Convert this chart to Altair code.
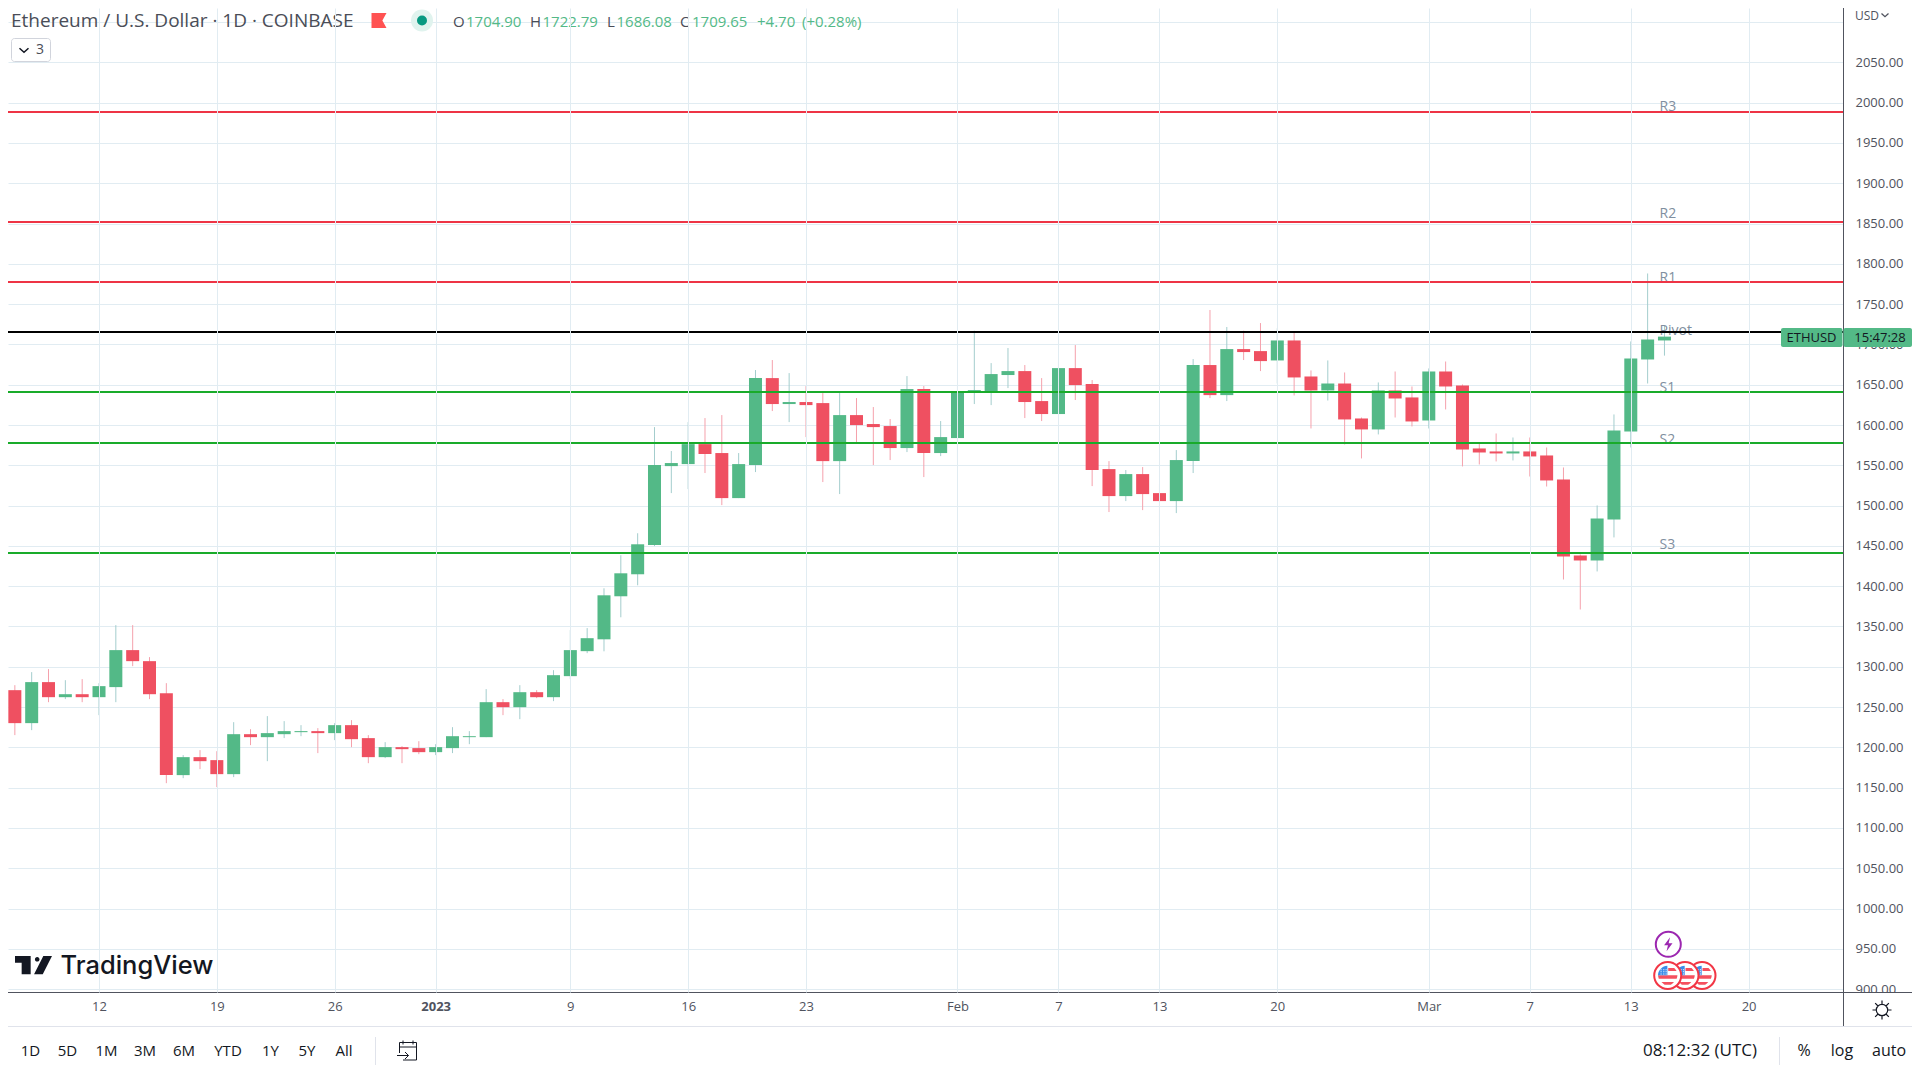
import altair as alt
import pandas as pd

# ---------- data ----------
first_day = "2022-12-07"
opens = [1271,1230.1,1281,1262.3,1266,1262.3,1274.8,1320.7,1307,1267.3,
         1165.6,1187.9,1184.2,1166.8,1216.4,1212.7,1216.4,1218.9,1220.2,1217.7,
         1227.6,1211.5,1187.9,1200.3,1199.1,
         1194.1,1199.1,1212.7,1212.7,1256.1,1249.9,1268.5,1262.3,1288.4,1319.4,
         1334.1,1387.5,1414.8,1451,1549,1551.5,1576.3,1565.2,1509.3,1550.3,
         1658.2,1626,1628.5,1627.2,1555.2,1612.3,1601.2,1598.7,1571.4,1644.6,1565.2,
         1583.8,1640.9,1640.9,1662,1666.9,1629.7,1613.6,1670.6,1650.8,1545.3,
         1511.8,1539.1,1515.5,1505.6,1555.2,1674.4,1637.1,1694.2,1691.7,1680.1,
         1704.9,1660.2,1642.9,1651.5,1608.1,1594.5,1642.9,1634.2,
         1605.6,1666.4,1649,1570.9,1567.2,1564.7,1567.2,1562.2,1532.4,1438.1,1431.9,1482.8,1592,1681.3,1704.9]
closes = [1230.1,1281,1262.3,1266,1262.3,1276,1320.7,1307,1266,1165.6,
          1187.9,1182.9,1166.8,1216.4,1212.7,1217.7,1220.2,1220.2,1217.7,1227.6,
          1210.2,1187.9,1200.3,1197.8,1194.1,
          1200.3,1213.9,1213.9,1256.1,1249.9,1268.5,1262.3,1289.6,1320.7,1335.5,
          1388.7,1416,1452,1550.3,1552.8,1576.3,1564,1509.3,1551.5,1658.2,
          1626,1628.5,1624.7,1555.2,1612.3,1599.9,1597.4,1571.4,1644.6,1565.2,1585,
          1640.9,1643.3,1663.2,1666.9,1628.5,1613.6,1670.6,1649.5,1544.1,1511.8,
          1539.1,1514.3,1505.6,1556.5,1674.4,1637.1,1694.2,1690.5,1679.3,1704.9,
          1659,1642.9,1651.5,1606.9,1594.5,1642.9,1632.9,1604.4,
          1666.4,1647.8,1569.6,1565.9,1564.7,1567.2,1561,1531.2,1436.9,1431.9,1484,1593.2,1682.6,1706.1,1709.65]
highs = [1277.2,1293.4,1297.1,1283.4,1284.7,1279.7,1351.7,1351.7,1312,1279.7,
         1190.4,1196.6,1195.3,1231.3,1222.6,1238.8,1232.6,1227.6,1223.9,1230.1,
         1233.8,1215.2,1206.5,1201.5,1207.7,
         1204,1225.1,1220.2,1272.3,1259.9,1277.2,1271,1295.8,1345.5,1348,
         1397.4,1438.4,1465.7,1597.4,1567.7,1603.6,1608.6,1612.3,1565.2,1668.2,
         1680.6,1664.4,1648.3,1639.6,1639.6,1633.4,1622.3,1607.4,1660.7,1648.3,1604.9,
         1648.3,1717,1676.8,1695.5,1674.4,1658.2,1678.1,1699.2,1655.8,1555.2,
         1544.1,1547.8,1526.7,1568.9,1681.8,1742.7,1721.6,1717,1726.5,1720,
         1716,1667.7,1680.1,1665.2,1609.3,1652.8,1666.4,1647.8,
         1670.2,1678.8,1650.3,1577.1,1589.5,1584.5,1584.5,1572.1,1547.3,1439.4,1500.2,1613.1,1703.7,1788,1722.79]
lows = [1215.2,1221.4,1256.1,1259.9,1256.1,1240,1256.1,1300.8,1259.9,1155.6,
        1161.8,1173,1150.7,1163.1,1202.8,1182.9,1211.5,1213.9,1192.9,1209,
        1200.3,1180.4,1186.7,1180.4,1191.6,
        1190.4,1192.9,1204,1212.7,1240,1235,1261.1,1257.4,1284.7,1316.9,
        1319.2,1361.4,1401.1,1449.8,1515.5,1520.5,1540.4,1500.6,1509.3,1541.6,
        1617.3,1603.6,1585,1529.2,1514.3,1578.8,1550.3,1556.5,1566.4,1535.4,1561.4,
        1556.5,1626,1624.7,1645.8,1608.6,1604.9,1613.6,1631,1524.2,1492,
        1505.6,1494.4,1462.2,1490.7,1540.4,1633.4,1629.7,1680.6,1666.9,1651.5,
        1636.7,1595.7,1630.4,1575.8,1558.5,1588.3,1609.3,1598.2,
        1595.7,1619.3,1548.6,1551,1554.8,1556,1536.1,1523.7,1408.3,1371.1,1418.3,1460.5,1572.1,1651.5,1686.08]

level_names = ["R3", "R2", "R1", "Pivot", "S1", "S2", "S3"]
level_prices = [1988.3, 1851.9, 1777.4, 1715.4, 1641.0, 1577.6, 1441.2]
level_label_prices = [1994.8, 1861.4, 1782, 1716.7, 1646, 1581, 1451]
level_kind = ["r", "r", "r", "p", "s", "s", "s"]

tick_dates = ["2022-12-12","2022-12-19","2022-12-26","2023-01-01","2023-01-09","2023-01-16",
              "2023-01-23","2023-02-01","2023-02-07","2023-02-13","2023-02-20","2023-03-01",
              "2023-03-07","2023-03-13","2023-03-20"]
tick_labels = ["12","19","26","2023","9","16","23","Feb","7","13","20","Mar","7","13","20"]
price_ticks = list(range(900, 2101, 50))

df = pd.DataFrame({"date": pd.date_range(first_day, periods=len(opens)).strftime("%Y-%m-%d"),
                   "open": opens, "high": highs, "low": lows, "close": closes})
levels = pd.DataFrame({"name": level_names, "price": level_prices,
                       "label": level_label_prices, "kind": level_kind,
                       "date": "2023-03-14T17:00:00"})

def ms(s):
    return int(pd.Timestamp(s, tz="UTC").timestamp() * 1000)

GREEN, RED = "#53b987", "#ef5061"
GREEN_W, RED_W = "#a3cdcd", "#f5a1ac"
GRID = "#e1ecf2"
AX = "#50535e"
FONT = "Open Sans"
OX, OY = 8, 8   # page margin

label_map = "{" + ",".join(f"'{d}':'{l}'" for d, l in zip(tick_dates, tick_labels)) + "}"
x_scale = alt.Scale(type="utc", domain=[ms("2022-12-06T21:22:00"), ms("2023-03-25T07:26:00")])
y_scale = alt.Scale(domain=[896.5, 2117.4], nice=False, zero=False)

x_axis = alt.Axis(values=[ms(d) for d in tick_dates], title=None, domain=False, ticks=False,
                  grid=True, gridColor=GRID, gridWidth=1, labelColor=AX, labelFont=FONT, labelFontSize=13,
                  labelExpr=f"{label_map}[utcFormat(datum.value,'%Y-%m-%d')]",
                  labelFontWeight=alt.condition("datum.label == '2023'", alt.value(700), alt.value(400)),
                  labelPadding=8, labelFlush=False, labelOverlap=False, labelBound=False, zindex=2)
y_axis = alt.Axis(values=price_ticks, title=None, orient="right", domain=False, ticks=False,
                  grid=True, gridColor=GRID, gridWidth=1, labelColor=AX, labelFont=FONT, labelFontSize=13,
                  labelExpr="datum.value >= 2100 ? '' : format(datum.value, '.2f')",
                  labelPadding=12, labelFlush=False, labelOverlap=False, labelBound=False)

X = alt.X("date:T", scale=x_scale, axis=x_axis)
Y_lo = alt.Y("low:Q", scale=y_scale, axis=y_axis)

up = "datum.close >= datum.open"
wicks = alt.Chart(df).mark_rule(strokeWidth=1).encode(
    x=X, y=Y_lo, y2="high:Q",
    color=alt.condition(up, alt.value(GREEN_W), alt.value(RED_W)))
bodies = alt.Chart(df).mark_bar(size=13).encode(
    x=alt.X("date:T"), y=alt.Y("open:Q"), y2="close:Q",
    color=alt.condition(up, alt.value(GREEN), alt.value(RED)))

level_text = alt.Chart(levels).mark_text(align="left", font=FONT, fontSize=14, color="#7f8fa0").encode(
    x="date:T", y=alt.Y("label:Q"), text="name:N")
level_lines = alt.Chart(levels).mark_rule(strokeWidth=2).encode(
    y=alt.Y("price:Q"),
    color=alt.Color("kind:N", legend=None,
                    scale=alt.Scale(domain=["r", "p", "s"], range=["#ee3445", "#000000", "#19ab2a"])))

# ---------- interface parts ----------
blank = {"values": [{}]}
def T(text, x, y, size=14, color="#131722", align="left", weight=400, font=FONT):
    return alt.Chart(blank).mark_text(text=text, align=align, baseline="middle", fontSize=size,
                                      color=color, fontWeight=weight, font=font).encode(
        x=alt.value(x - OX), y=alt.value(y - OY))
def R(x1, x2, y1, y2, fill, stroke=None, corner=0):
    kw = {"fill": fill, "cornerRadius": corner}
    if stroke:
        kw.update(stroke=stroke, strokeWidth=1)
    return alt.Chart(blank).mark_rect(**kw).encode(
        x=alt.value(x1 - OX), x2=alt.value(x2 - OX), y=alt.value(y1 - OY), y2=alt.value(y2 - OY))
def P(shape, x, y, px, fill=None, stroke=None, sw=1):
    kw = {"shape": shape, "size": (px) ** 2, "opacity": 1}
    kw["fill"] = fill if fill else "transparent"
    if stroke:
        kw.update(stroke=stroke, strokeWidth=sw)
    else:
        kw["strokeWidth"] = 0
    return alt.Chart(blank).mark_point(**kw).encode(x=alt.value(x - OX), y=alt.value(y - OY))

ui = []
# masks and frame
ui.append(R(0, 1920, 993, 1080, "#ffffff"))
ui.append(R(0, 1920, 992, 993, AX))
ui.append(R(1843, 1844, 8, 1026, AX))
ui.append(R(0, 1920, 1026, 1027, "#e0e3eb"))
ui.append(R(375, 376, 1037, 1065, "#e0e3eb"))
ui.append(R(1779, 1780, 1037, 1065, "#e0e3eb"))

# header
ui.append(T("Ethereum / U.S. Dollar · 1D · COINBASE", 11, 21, 19, "#4a4d57"))
ui.append(P("M -1 -1 L 1 -1 L 0.45 0 L 1 1 L -1 1 Z", 379, 20.5, 15, fill="#ff5252"))
ui.append(P("circle", 422, 20.5, 22, fill="#e0f3ee"))
ui.append(P("circle", 422, 20.5, 10, fill="#089981"))
for lab, lx, val, vx in [("O", 453, "1704.90", 466), ("H", 530, "1722.79", 542.5),
                         ("L", 607, "1686.08", 616.5), ("C", 680, "1709.65", 692)]:
    ui.append(T(lab, lx, 21.5, 15, "#4a4d57"))
    ui.append(T(val, vx, 21.5, 15, GREEN))
ui.append(T("+4.70", 757, 21.5, 15, GREEN))
ui.append(T("(+0.28%)", 802, 21.5, 15, GREEN))
ui.append(R(11.5, 50.5, 38.5, 61.5, "#ffffff", "#d1d4dc", 3))
ui.append(P("M -1 -0.4 L 0 0.5 L 1 -0.4", 24, 50, 9, stroke="#131722", sw=1.5))
ui.append(T("3", 40, 50, 14, "#4a4d57", "center"))

# logo
ui.append(P("M-1 -.486 L-.153 -.486 L-.153 .5 L-.64 .5 L-.64 -.12 L-1 -.12 Z "
            "M.075 -.31 A.125 .125 0 1 1 .325 -.31 A.125 .125 0 1 1 .075 -.31 Z "
            "M.53 -.486 L1 -.486 L.5 .5 L.03 .5 Z", 33.5, 965, 37, fill="#131722"))
ui.append(T("TradingView", 60.5, 966, 25.5, "#131722", weight=500, font="Inter"))

# price tag
ui.append(R(1781, 1842.5, 328, 347, GREEN, corner=2))
ui.append(R(1843.5, 1912, 328, 347, GREEN, corner=2))
ui.append(T("ETHUSD", 1811.5, 337.5, 13, "#131722", "center"))
ui.append(T("15:47:28", 1880, 337.5, 13, "#131722", "center"))
ui.append(T("USD", 1855, 16, 12, AX))
ui.append(P("M -1 -0.4 L 0 0.5 L 1 -0.4", 1885, 15, 7, stroke=AX, sw=1.3))

# events
ui.append(P("circle", 1668.3, 944.3, 25, fill="#ffffff", stroke="#9c27b0", sw=2))
ui.append(P("M .25 -1 L -.6 .15 L -.05 .15 L -.25 1 L .6 -.15 L .05 -.15 Z", 1668.3, 944.3, 14, fill="#9c27b0"))
stripes = ("M .05 -.72 L .62 -.72 A .95 .95 0 0 1 .85 -.42 L .05 -.42 Z "
           "M -.93 -.03 L .93 -.03 A .95 .95 0 0 1 .85 .3 L -.85 .3 Z "
           "M -.6 .62 L .6 .62 A .95 .95 0 0 1 .3 .88 L -.3 .88 Z")
canton = "M -.03 -.03 L -.93 -.03 A .95 .95 0 0 1 -.03 -.93 Z"
stars = "".join(f"M {a} {b} h .1 v .1 h -.1 Z " for a in (-.68, -.42, -.2) for b in (-.6, -.4, -.2))
for cx in (1702, 1685, 1667.7):
    ui.append(P("circle", cx, 975.5, 27, fill="#ffffff", stroke="#f23645", sw=2))
    ui.append(P(stripes, cx, 975.5, 21, fill="#f5505f"))
    ui.append(P(canton, cx, 975.5, 21, fill="#3a8be8"))
    ui.append(P(stars, cx, 975.5, 21, fill="#ffffff"))

# toolbar
for txt, cx in [("1D", 30.5), ("5D", 67.5), ("1M", 106.5), ("3M", 145), ("6M", 184),
                ("YTD", 228), ("1Y", 270.5), ("5Y", 307), ("All", 344)]:
    ui.append(T(txt, cx, 1050.5, 15, "#131722", "center"))
ui.append(P("M -.75 -.35 L .95 -.35 M -.75 .25 L -.75 -.8 L .95 -.8 L .95 .95 L -.4 .95 "
            "M -.4 -1 L -.4 -.6 M .6 -1 L .6 -.6 M -1 .5 L .15 .5 M -.2 .15 L .15 .5 L -.2 .85",
            407, 1050.5, 20, stroke="#131722", sw=1))
ui.append(T("08:12:32 (UTC)", 1700, 1050.5, 17, "#131722", "center"))
ui.append(T("%", 1804, 1050.5, 16, "#131722", "center"))
ui.append(T("log", 1842, 1050.5, 16, "#131722", "center"))
ui.append(T("auto", 1889, 1050.5, 16, "#131722", "center"))
gear = ("M .6 0 A .6 .6 0 1 1 -.6 0 A .6 .6 0 1 1 .6 0 Z "
        "M 0 -.6 L 0 -1 M 0 .6 L 0 1 M -.6 0 L -1 0 M .6 0 L 1 0 "
        "M -.42 -.42 L -.72 -.72 M .42 -.42 L .72 -.72 M -.42 .42 L -.72 .72 M .42 .42 L .72 .72")
ui.append(P(gear, 1882, 1010, 19, stroke="#131722", sw=1.2))

chart = alt.layer(wicks, bodies, level_text, level_lines, *ui).resolve_scale(color="independent").properties(
    width=1835, height=984,
    padding={"left": 0, "top": 0, "right": 69, "bottom": 76},
    autosize=alt.AutoSizeParams(type="none"),
).configure_view(stroke=None)

chart.save("out.html", embed_options={"renderer": "svg", "actions": False})
